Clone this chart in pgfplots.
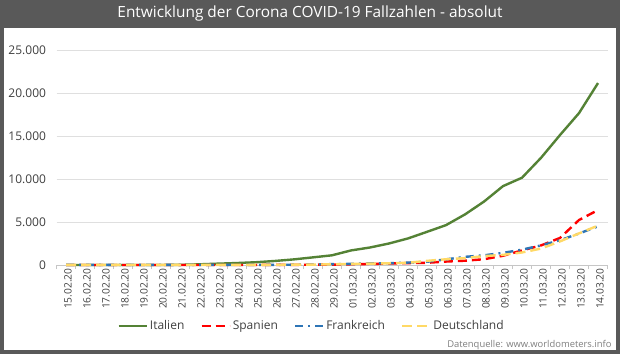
\documentclass[border=0pt]{standalone}
\usepackage{pgfplots}
\pgfplotsset{compat=1.18}
\usepackage{fontspec}
\setmainfont{Open Sans}
\definecolor{ita}{HTML}{548235}
\definecolor{spa}{HTML}{FF0000}
\definecolor{fra}{HTML}{2E75B6}
\definecolor{deu}{HTML}{FFD966}
\definecolor{frame}{HTML}{595959}
\definecolor{txt}{HTML}{404040}
\pgfplotstableread{
i ita spa fra deu
0 3 2 12 16
1 3 2 12 16
2 3 2 12 16
3 3 2 12 16
4 3 2 12 16
5 3 2 12 16
6 20 2 12 16
7 79 2 12 16
8 157 2 12 16
9 229 2 12 16
10 323 6 14 17
11 470 13 18 27
12 655 15 38 46
13 889 32 57 48
14 1128 45 100 79
15 1694 84 130 130
16 2036 120 191 159
17 2502 165 204 196
18 3089 222 285 262
19 3858 259 377 482
20 4636 400 653 670
21 5883 500 949 799
22 7375 673 1126 1040
23 9172 1073 1412 1176
24 10149 1695 1784 1457
25 12462 2277 2281 1908
26 15113 3146 2876 2745
27 17660 5232 3661 3675
28 21157 6391 4499 4585
}\data
\begin{document}
\begin{tikzpicture}[x=1pt,y=1pt]
\useasboundingbox (0,0) rectangle (620,354);
\fill[white] (0,0) rectangle (620,354);
\fill[frame] (0,326) rectangle (620,354);
\draw[frame, line width=4pt] (2,2) rectangle (618,352);
\node[text=white, font=\fontsize{15.4}{17}\selectfont] at (310,340) {Entwicklung der Corona COVID-19 Fallzahlen - absolut};
\node[anchor=east, text=gray, font=\fontsize{9.4}{11}\selectfont] at (615,9) {Datenquelle: www.worldometers.info};
\begin{axis}[
  at={(56.5pt,89pt)}, anchor=south west,
  scale only axis, width=551pt, height=215pt,
  xmin=-0.5, xmax=28.5, ymin=0, ymax=25000,
  axis lines*=left,
  y axis line style={draw=none},
  x axis line style={draw=gray!45, line width=0.8pt},
  ytick={0,5000,10000,15000,20000,25000},
  scaled y ticks=false,
  ymajorgrids, grid style={draw=gray!25, line width=0.8pt},
  major tick length=0pt,
  xtick={0,...,28},
  minor xtick={-0.5,0.5,...,28.5},
  minor tick length=4pt, tick align=outside,
  minor tick style={draw=gray!45, line width=0.8pt},
  xticklabels={15.02.20,16.02.20,17.02.20,18.02.20,19.02.20,20.02.20,21.02.20,22.02.20,23.02.20,24.02.20,25.02.20,26.02.20,27.02.20,28.02.20,29.02.20,01.03.20,02.03.20,03.03.20,04.03.20,05.03.20,06.03.20,07.03.20,08.03.20,09.03.20,10.03.20,11.03.20,12.03.20,13.03.20,14.03.20},
  xticklabel style={rotate=90, anchor=east, font=\fontsize{10.2}{11}\selectfont, text=txt, yshift=-2pt},
  yticklabel style={font=\fontsize{12}{13}\selectfont, text=txt, xshift=-7pt},
  /pgf/number format/.cd, 1000 sep={.}, assume math mode=true,
  /pgfplots/.cd,
  legend columns=4,
  legend style={at={(0.463,-0.284)}, anchor=center, draw=none, fill=none,
    font=\fontsize{12}{13}\selectfont, text=txt,
    /tikz/every even column/.append style={column sep=14pt}},
  legend image code/.code={\draw[#1] (0pt,0pt) -- (28pt,0pt);},
  clip=false,
]
\addplot[ita, line width=2.4pt, line join=round] table[x=i, y=ita] {\data};
\addlegendentry{Italien}
\addplot[spa, line width=2.4pt, dash pattern=on 9pt off 5pt] table[x=i, y=spa] {\data};
\addlegendentry{Spanien}
\addplot[fra, line width=2.4pt, dash pattern=on 8pt off 5pt on 2pt off 5pt] table[x=i, y=fra] {\data};
\addlegendentry{Frankreich}
\addplot[deu, line width=2.4pt, dash pattern=on 10pt off 5pt] table[x=i, y=deu] {\data};
\addlegendentry{Deutschland}
\end{axis}
\end{tikzpicture}
\end{document}
